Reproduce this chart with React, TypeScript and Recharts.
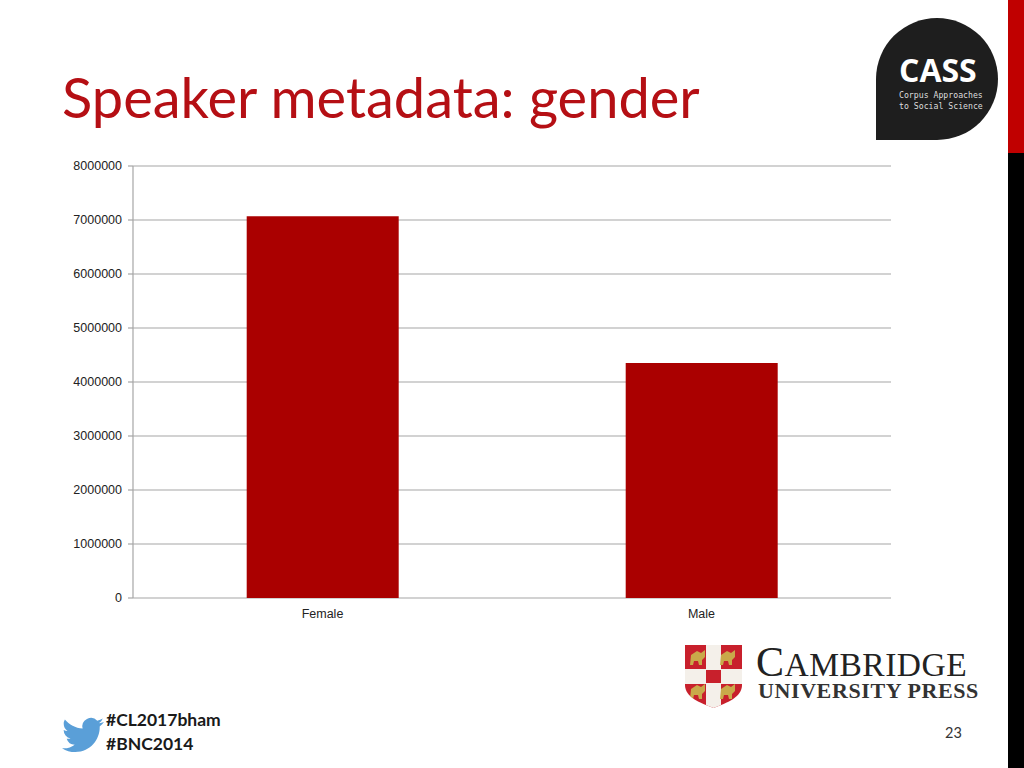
import { BarChart, Bar, XAxis, YAxis, CartesianGrid } from 'recharts';

const categories = ['Female', 'Male'];
const speakers = [7070000, 4350000];
const yTicks = [0, 1000000, 2000000, 3000000, 4000000, 5000000, 6000000, 7000000, 8000000];
const categoryEdges = [0, 1, 2];

const data = categories.map((gender, i) => ({ gender, speakers: speakers[i] }));

const RED = '#aa0000';
const GREY = '#a6a6a6';
const axisText = { fontSize: 12.5, fill: '#222', fontFamily: 'Liberation Sans' };

const abs = (left: number, top: number, extra: object = {}) => ({
  position: 'absolute' as const,
  left,
  top,
  whiteSpace: 'nowrap' as const,
  ...extra,
});

function CassLogo() {
  return (
    <div style={abs(876, 18, { width: 122, height: 122, background: '#1e1e1e', borderRadius: '61px 61px 61px 0' })}>
      <div style={abs(23, 32, { color: '#fff', fontFamily: 'Open Sans', fontWeight: 700, fontSize: 32, lineHeight: '40px' })}>CASS</div>
      <div style={abs(23, 72, { color: '#ddd', fontFamily: 'DejaVu Sans Mono', fontSize: 8.2, lineHeight: '11px' })}>
        Corpus Approaches
        <br />
        to Social Science
      </div>
    </div>
  );
}

function Shield() {
  const lions = [
    [4, 4],
    [34, 4],
    [4, 38],
    [34, 38],
  ];
  return (
    <svg style={abs(685, 645)} width={57} height={63} viewBox="0 0 57 63">
      <defs>
        <clipPath id="shield">
          <path d="M0 0H57V40C57 52 42 58 28.500 63C15 58 0 52 0 40Z" />
        </clipPath>
      </defs>
      <g clipPath="url(#shield)">
        <rect width={57} height={63} fill="#c8202c" />
        <rect x={21} width={15} height={63} fill="#f4f0ea" />
        <rect y={24} width={57} height={15} fill="#f4f0ea" />
        <rect x={21} y={25} width={15} height={13} fill="#c8202c" />
        {lions.map(([x, y]) => (
          <path key={`${x}-${y}`} d={`M${x + 2} ${y + 6}l6-4 4 2 4-3v7l-3 3v5h-3l-1-4h-4l-1 4h-3z`} fill="#c9a94a" />
        ))}
      </g>
    </svg>
  );
}

function CambridgeLogo() {
  return (
    <>
      <Shield />
      <div style={abs(756, 641, { fontFamily: 'Liberation Serif', fontSize: 42, lineHeight: '42px', color: '#222', letterSpacing: 0.5 })}>
        C<span style={{ fontSize: 33.5 }}>AMBRIDGE</span>
      </div>
      <div style={abs(758, 679, { fontFamily: 'Liberation Serif', fontWeight: 700, fontSize: 22, lineHeight: '24px', color: '#333', letterSpacing: 0.6 })}>
        UNIVERSITY PRESS
      </div>
    </>
  );
}

function Bird() {
  return (
    <svg style={abs(62, 714)} width={42} height={42} viewBox="0 0 24 24">
      <path
        fill="#5a9fd8"
        d="M23.953 4.57a10 10 0 01-2.825.775 4.958 4.958 0 002.163-2.723c-.951.555-2.005.959-3.127 1.184a4.92 4.92 0 00-8.384 4.482C7.69 8.095 4.067 6.13 1.64 3.162a4.822 4.822 0 00-.666 2.475c0 1.71.87 3.213 2.188 4.096a4.904 4.904 0 01-2.228-.616v.06a4.923 4.923 0 003.946 4.827 4.996 4.996 0 01-2.212.085 4.936 4.936 0 004.604 3.417 9.867 9.867 0 01-6.102 2.105c-.39 0-.779-.023-1.17-.067a13.995 13.995 0 007.557 2.209c9.053 0 13.998-7.496 13.998-13.985 0-.21 0-.42-.015-.63A9.935 9.935 0 0024 4.59z"
      />
    </svg>
  );
}

export default function App() {
  return (
    <div style={{ position: 'absolute', left: 0, top: 0, width: 1024, height: 768, background: '#fff', overflow: 'hidden' }}>
      <div style={abs(1008, 0, { width: 16, height: 153, background: '#c00000' })} />
      <div style={abs(1008, 153, { width: 16, height: 615, background: '#000' })} />

      <div style={abs(62, 62, { fontFamily: 'Lato', fontSize: 56, lineHeight: '70px', color: '#b50f14' })}>Speaker metadata: gender</div>

      <div style={abs(0, 0)}>
        <BarChart width={1024} height={768} data={data} margin={{ top: 166, right: 133, bottom: 140, left: 60 }} barCategoryGap="30%">
          <CartesianGrid horizontal vertical={false} stroke={GREY} strokeWidth={1.2} />
          <XAxis
            xAxisId="edges"
            type="number"
            dataKey={() => 0}
            domain={[0, 2]}
            ticks={categoryEdges}
            height={0}
            tick={false}
            tickSize={5}
            stroke={GREY}
            strokeWidth={1.2}
          />
          <XAxis dataKey="gender" height={30} axisLine={false} tickLine={false} tick={axisText} tickMargin={5} interval={0} />
          <YAxis
            width={73}
            domain={[0, 8000000]}
            ticks={yTicks}
            interval={0}
            tick={axisText}
            tickSize={5}
            tickMargin={6}
            stroke={GREY}
            strokeWidth={1.2}
          />
          <Bar dataKey="speakers" fill={RED} isAnimationActive={false} />
        </BarChart>
      </div>

      <CassLogo />
      <CambridgeLogo />
      <Bird />

      <div style={abs(106, 708, { fontFamily: 'Lato', fontWeight: 700, fontSize: 17.5, lineHeight: '24px', color: '#1a1a1a' })}>
        #CL2017bham
        <br />
        #BNC2014
      </div>
      <div style={abs(945, 724, { fontFamily: 'Lato', fontSize: 14.5, lineHeight: '18px', color: '#333' })}>23</div>
    </div>
  );
}
